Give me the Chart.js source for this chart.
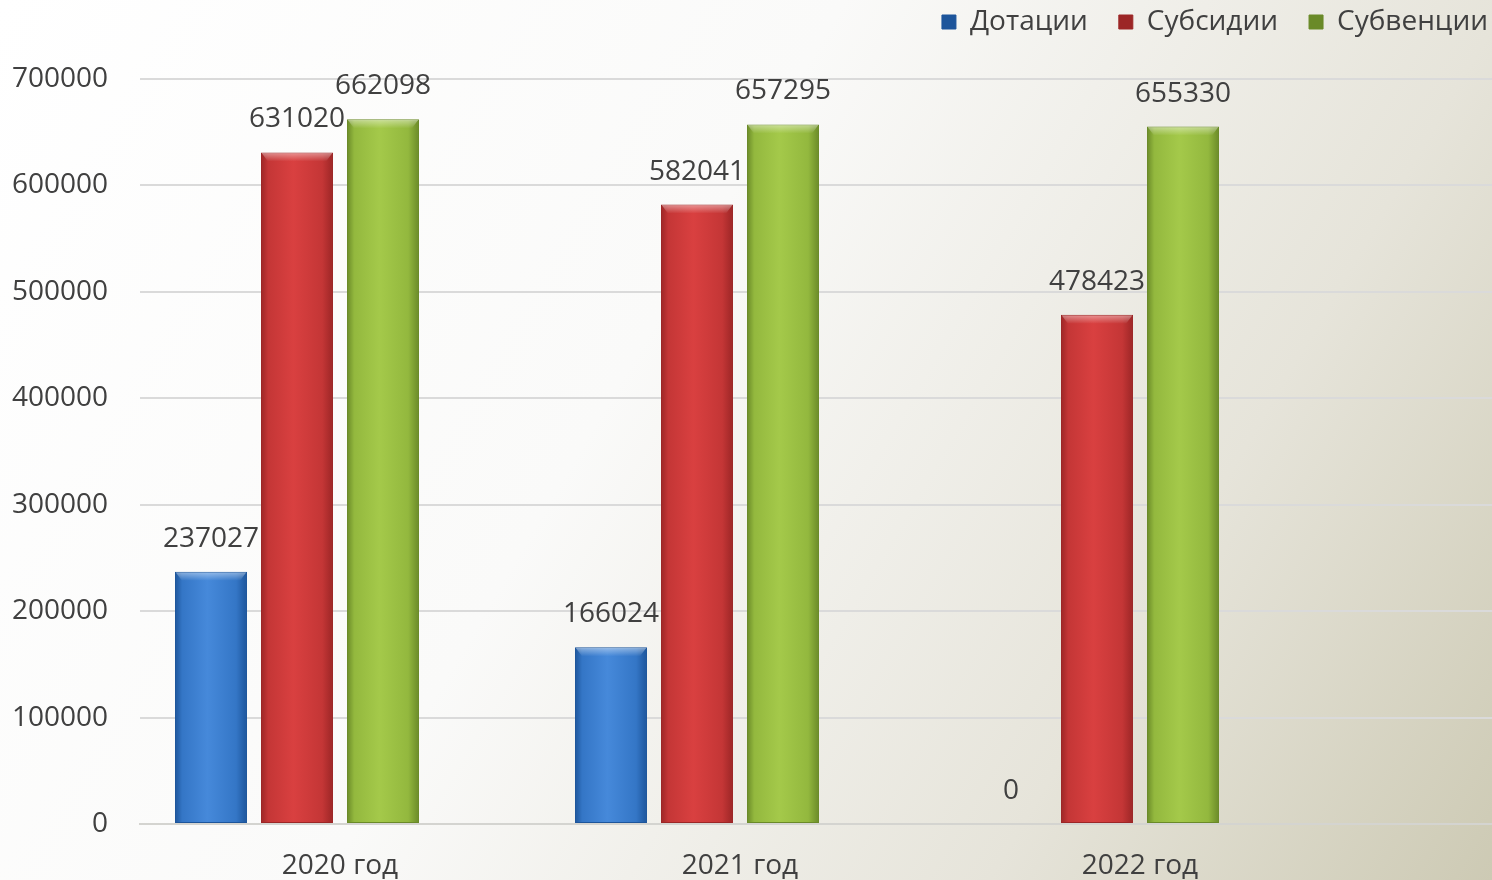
<!DOCTYPE html>
<html><head><meta charset="utf-8">
<script src="https://cdn.jsdelivr.net/npm/chart.js@4.4.0/dist/chart.umd.min.js"></script>
<style>html,body{margin:0;padding:0;overflow:hidden;background:#fff}#wrap{width:1492px;height:880px;position:relative}</style>
</head><body><div id="wrap"><canvas id="c" width="1492" height="880"></canvas></div>
<script>
const categories = ['2020 год', '2021 год', '2022 год'];
const seriesNames = ['Дотации', 'Субсидии', 'Субвенции'];
const dotacii = [237027, 166024, 0];
const subsidii = [631020, 582041, 478423];
const subvencii = [662098, 657295, 655330];
const yTicks = [0, 100000, 200000, 300000, 400000, 500000, 600000, 700000];

const palette = [
  {edge: '#1d559b', mid: '#3476c6', light: '#4689da'},
  {edge: '#9c2626', mid: '#c43636', light: '#d94040'},
  {edge: '#6a8a28', mid: '#93b83e', light: '#a4c94a'}
];

function barFill(p) {
  return function (ctx) {
    if (ctx.type !== 'data') return p.mid;
    const chart = ctx.chart;
    const el = chart.getDatasetMeta(ctx.datasetIndex).data[ctx.dataIndex];
    if (!el || el.x == null || isNaN(el.x) || !el.width) return p.mid;
    const w = el.width;
    const g = chart.ctx.createLinearGradient(el.x - w / 2, 0, el.x + w / 2, 0);
    g.addColorStop(0, p.edge);
    g.addColorStop(0.1, p.mid);
    g.addColorStop(0.45, p.light);
    g.addColorStop(0.85, p.mid);
    g.addColorStop(1, p.edge);
    return g;
  };
}

const series = [dotacii, subsidii, subvencii];
const datasets = series.map((vals, i) => ({
  label: seriesNames[i],
  data: vals.map((v, j) => ({x: j, y: v})),
  backgroundColor: barFill(palette[i]),
  borderColor: palette[i].edge,
  borderWidth: 1,
  borderSkipped: false
}));
// empty fourth slot of the original chart's series layout
datasets.push({label: '', data: categories.map((c, j) => ({x: j, y: null})), backgroundColor: 'rgba(0,0,0,0)', hideLabels: true});

Chart.defaults.font.family = "'Open Sans', sans-serif";
Chart.defaults.font.size = 28;
Chart.defaults.color = '#404040';

const bgPlugin = {
  id: 'bg',
  beforeDraw(chart) {
    const c = chart.ctx;
    const g = c.createLinearGradient(0, 0, chart.width, chart.height);
    g.addColorStop(0, '#ffffff');
    g.addColorStop(0.42, '#fafaf9');
    g.addColorStop(0.75, '#e6e4da');
    g.addColorStop(1, '#cdcab4');
    c.save();
    c.fillStyle = g;
    c.fillRect(0, 0, chart.width, chart.height);
    c.restore();
  },
  beforeLayout(chart) {
    const lg = chart.legend;
    if (lg && !lg._patched) {
      const f = lg.fit;
      lg.fit = function () { f.call(this); this.height = 102; };
      lg._patched = true;
    }
  },
  afterDatasetDraw(chart, args) {
    const ds = chart.data.datasets[args.index];
    if (ds.hideLabels) return;
    const c = chart.ctx;
    c.save();
    args.meta.data.forEach((el) => {
      if (!el.width || el.base - el.y < 8) return;
      const w = el.width;
      const g = c.createLinearGradient(0, el.y, 0, el.y + 9);
      g.addColorStop(0, 'rgba(255,255,255,0.45)');
      g.addColorStop(1, 'rgba(255,255,255,0)');
      c.fillStyle = g;
      c.beginPath();
      c.moveTo(el.x - w / 2 + 1, el.y + 1);
      c.lineTo(el.x + w / 2 - 1, el.y + 1);
      c.lineTo(el.x + w / 2 - 7, el.y + 9);
      c.lineTo(el.x - w / 2 + 7, el.y + 9);
      c.closePath();
      c.fill();
    });
    c.restore();
  },
  afterDatasetsDraw(chart) {
    const c = chart.ctx;
    c.save();
    c.font = "28px 'Open Sans', sans-serif";
    c.fillStyle = '#404040';
    c.textAlign = 'center';
    c.textBaseline = 'middle';
    chart.data.datasets.forEach((ds, i) => {
      if (ds.hideLabels) return;
      const meta = chart.getDatasetMeta(i);
      meta.data.forEach((el, j) => {
        const v = ds.data[j].y;
        if (v == null) return;
        c.fillText(String(v), el.x, el.y - 33);
      });
    });
    c.restore();
  }
};

const chart = new Chart(document.getElementById('c'), {
  type: 'bar',
  data: {datasets},
  plugins: [bgPlugin],
  options: {
    responsive: false,
    animation: false,
    devicePixelRatio: 1,
    layout: {padding: {top: -23, right: -27, left: 0, bottom: 0}},
    datasets: {bar: {categoryPercentage: 0.86, barPercentage: 0.837}},
    plugins: {
      legend: {
        position: 'top',
        align: 'end',
        labels: {
          boxWidth: 14,
          boxHeight: 14,
          padding: 31,
          color: '#404040',
          font: {size: 28},
          filter: (item) => item.datasetIndex < 3
        }
      },
      tooltip: {enabled: false}
    },
    scales: {
      x: {
        type: 'linear',
        offset: false,
        min: -0.5,
        max: 2.88,
        grid: {display: false},
        border: {display: true, color: '#d4d4d0', width: 2},
        afterBuildTicks(scale) { scale.ticks = categories.map((c, i) => ({value: i})); },
        afterFit(scale) { scale.height = 56; },
        ticks: {
          padding: 17,
          autoSkip: false,
          maxRotation: 0,
          callback: (v) => categories[v] ?? '',
          color: '#404040',
          font: {size: 28}
        }
      },
      y: {
        min: 0,
        max: 700000,
        afterBuildTicks(scale) { scale.ticks = yTicks.map((v) => ({value: v})); },
        afterFit(scale) { scale.width = 140; },
        grid: {color: '#dadada', lineWidth: 2, drawTicks: false},
        border: {display: false},
        ticks: {
          padding: 32,
          color: '#404040',
          font: {size: 28},
          callback: (v) => String(v)
        }
      }
    }
  }
});
chart.update();
</script>
</body></html>
